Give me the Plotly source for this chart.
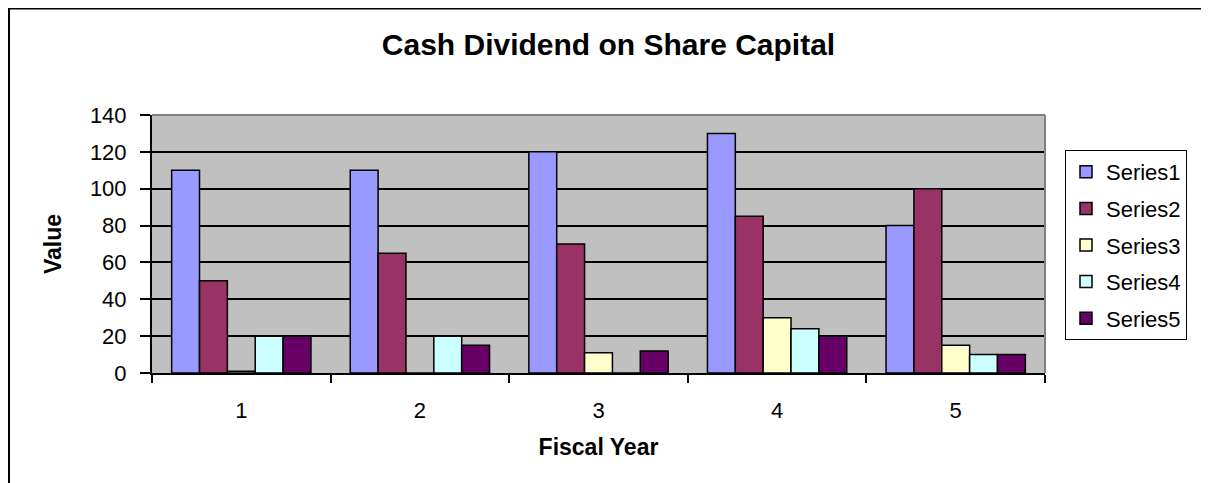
import plotly.graph_objects as go

years = [1, 2, 3, 4, 5]
tick_labels = ["1", "2", "3", "4", "5"]
series_names = ["Series1", "Series2", "Series3", "Series4", "Series5"]
series1 = [110, 110, 120, 130, 80]
series2 = [50, 65, 70, 85, 100]
series3 = [1, 0, 11, 30, 15]
series4 = [20, 20, 0, 24, 10]
series5 = [20, 15, 12, 20, 10]
colors = ["#9999FF", "#993366", "#FFFFCC", "#CCFFFF", "#660066"]

# page has an 8px body margin; coordinates below are figure pixels
OFF = 8
W, H = 1209 - OFF, 483 - OFF
L, T = 152 - OFF, 115 - OFF
PR, PB = 1045 - OFF, 373 - OFF
R, B = W - PR, H - PB
pw, ph = PR - L, PB - T

fig = go.Figure()
for name, vals, col in zip(series_names, [series1, series2, series3, series4, series5], colors):
    fig.add_trace(go.Bar(x=years, y=vals, name=name, legendgroup=name,
                         marker=dict(color=col, line=dict(color="black", width=1.5))))

def px(x):
    return (x - OFF - L) / pw

def py(y):
    return (PB - (y - OFF)) / ph

fig.update_layout(
    width=W, height=H,
    margin=dict(l=L, r=R, t=T, b=B, pad=0),
    paper_bgcolor="white", plot_bgcolor="#C0C0C0",
    barmode="group", bargap=0.22, bargroupgap=0,
    font=dict(family="Arial, Liberation Sans", size=22, color="black"),
    title=dict(text="<b>Cash Dividend on Share Capital</b>", x=0.5, xanchor="center",
               y=1 - (44 - OFF) / H, yanchor="middle", font=dict(size=30)),
    showlegend=True,
    legend=dict(x=px(1065), y=py(150), xanchor="left", yanchor="top",
                bordercolor="black", borderwidth=1, bgcolor="white",
                font=dict(size=22), tracegroupgap=5, itemwidth=30),
    shapes=[
        dict(type="rect", xref="paper", yref="paper",
             x0=px(9), x1=px(1207), y0=py(500), y1=py(8.5),
             line=dict(color="black", width=2), layer="below"),
        dict(type="line", xref="paper", yref="paper", x0=0, x1=1, y0=1, y1=1,
             line=dict(color="#808080", width=2)),
        dict(type="line", xref="paper", yref="paper", x0=1, x1=1, y0=0, y1=1,
             line=dict(color="#808080", width=2)),
    ],
)

fig.update_xaxes(
    range=[0.5, 5.5], tickmode="array", tickvals=years, ticktext=tick_labels,
    ticks="", showline=True, linecolor="black", linewidth=2, showgrid=False,
    zeroline=False, tickfont=dict(size=22), ticklabelstandoff=17,
    minor=dict(tickvals=[0.5, 1.5, 2.5, 3.5, 4.5, 5.5], ticks="outside",
               ticklen=8, tickwidth=2, tickcolor="black", showgrid=False),
    title=dict(text="<b>Fiscal Year</b>", font=dict(size=23), standoff=16),
)
fig.update_yaxes(
    range=[0, 140], tickmode="array", tickvals=[0, 20, 40, 60, 80, 100, 120, 140],
    ticks="outside", ticklen=10, tickwidth=2, tickcolor="black",
    showline=True, linecolor="black", linewidth=2, ticklabelstandoff=9,
    showgrid=True, gridcolor="black", gridwidth=1.5, zeroline=False,
    tickfont=dict(size=22),
    title=dict(text="<b>Value</b>", font=dict(size=23), standoff=22),
)

fig.write_html("out.html")
